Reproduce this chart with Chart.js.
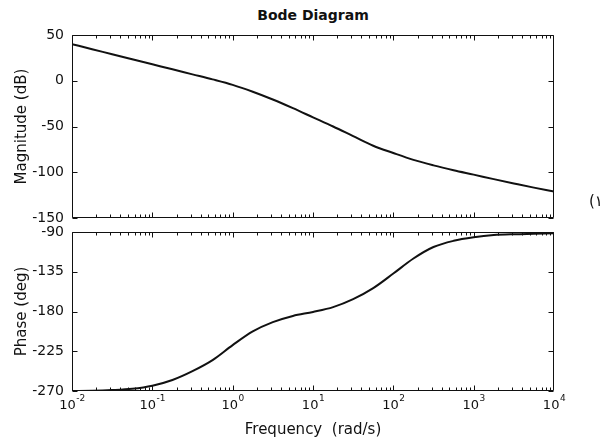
<!DOCTYPE html>
<html>
<head>
<meta charset="utf-8">
<title>Bode Diagram</title>
<script src="https://cdn.jsdelivr.net/npm/chart.js@4.4.1/dist/chart.umd.min.js"></script>
<style>
  body { margin: 0; background: #fff; width: 611px; height: 443px; position: relative; overflow: hidden; }
  canvas { position: absolute; left: 0; }
  #mag { top: 0; }
  #phase { top: 215px; }
  #title { position: absolute; left: 72px; width: 482px; top: 7px; text-align: center;
           font: bold 14px "DejaVu Sans"; line-height: 17px; color: #111; }
  #num { position: absolute; left: 589px; top: 192px; font: 15px "DejaVu Sans"; color: #111; }
</style>
</head>
<body>
<div id="title">Bode Diagram</div>
<canvas id="mag" width="611" height="230"></canvas>
<canvas id="phase" width="611" height="228"></canvas>
<div id="num" dir="rtl">۱)</div>
<script>
// values
const freq = [0.01, 0.0178, 0.0316, 0.0562, 0.1, 0.178, 0.316, 0.562, 1, 1.78, 3.16, 5.62,
  10, 17.8, 31.6, 56.2, 100, 178, 316, 562, 1000, 1780, 3160, 5620, 10000];
const magDb = [40, 34.5, 29, 23.5, 18, 12.5, 7, 1.5, -4.5, -12, -20.5, -30,
  -40, -50, -60.5, -71, -79, -86.5, -92.5, -97.8, -102.6, -107.5, -112.2, -116.8, -121];
const phaseDeg = [-270, -269.8, -269, -267.5, -264, -257.5, -247.5, -235, -218, -202.5, -192, -185,
  -180.5, -175, -166, -153.5, -137, -120, -107, -100, -96, -93.5, -92.5, -92, -91.5];

const magTicks = [50, 0, -50, -100, -150];
const phaseTicks = [-90, -135, -180, -225, -270];
const decades = [0.01, 0.1, 1, 10, 100, 1000, 10000];
const decadeExp = ['-2', '-1', '0', '1', '2', '3', '4'];

const FONT = 'DejaVu Sans';
const INK = '#111';

function points(ys) {
  return freq.map((f, i) => ({ x: f, y: ys[i] }));
}

// box round the axes with inward ticks (matlab look), plus 10^n labels
const frameTicks = {
  id: 'frameTicks',
  afterDraw(chart, args, opts) {
    const ctx = chart.ctx;
    const a = chart.chartArea;
    const xs = chart.scales.x, ys = chart.scales.y;
    const L = Math.round(a.left) + 0.5, R = Math.round(a.right) - 0.5;
    const T = Math.round(a.top) + 0.5, B = Math.round(a.bottom) - 0.5;
    ctx.save();
    ctx.strokeStyle = INK;
    ctx.lineWidth = 1;
    ctx.beginPath();
    ctx.rect(L, T, R - L, B - T);
    for (let d = 0; d < decades.length - 1; d++) {
      for (let m = 1; m < 10; m++) {
        const px = Math.round(xs.getPixelForValue(decades[d] * m)) + 0.5;
        const len = m === 1 ? 5 : 3;
        ctx.moveTo(px, T); ctx.lineTo(px, T + len);
        ctx.moveTo(px, B); ctx.lineTo(px, B - len);
      }
    }
    opts.yTicks.forEach(v => {
      const py = Math.round(ys.getPixelForValue(v)) + 0.5;
      ctx.moveTo(L, py); ctx.lineTo(L + 5, py);
      ctx.moveTo(R, py); ctx.lineTo(R - 5, py);
    });
    ctx.stroke();

    if (opts.xLabels) {
      ctx.fillStyle = INK;
      ctx.textBaseline = 'middle';
      ctx.textAlign = 'left';
      decades.forEach((v, i) => {
        const px = xs.getPixelForValue(v);
        ctx.font = '13px "' + FONT + '"';
        const wb = ctx.measureText('10').width;
        ctx.font = '9px "' + FONT + '"';
        const we = ctx.measureText(decadeExp[i]).width;
        const x0 = px - (wb + we) / 2;
        ctx.font = '13px "' + FONT + '"';
        ctx.fillText('10', x0, a.bottom + 15);
        ctx.font = '9px "' + FONT + '"';
        ctx.fillText(decadeExp[i], x0 + wb + 0.5, a.bottom + 8);
      });
    }
    ctx.restore();
  }
};

function xScale(height, withTitle) {
  return {
    type: 'logarithmic',
    min: 0.01,
    max: 10000,
    grid: { display: false, drawTicks: false },
    border: { display: false },
    ticks: { display: false },
    title: {
      display: withTitle,
      text: 'Frequency  (rad/s)',
      color: INK,
      font: { family: FONT, size: 15 },
      padding: { top: 0, bottom: 4 }
    },
    afterFit: s => { s.height = height; }
  };
}

function yScale(lo, hi, tickVals, label) {
  return {
    min: lo,
    max: hi,
    grid: { display: false, drawTicks: false },
    border: { display: false },
    afterBuildTicks: s => { s.ticks = tickVals.map(v => ({ value: v })); },
    ticks: {
      color: INK,
      padding: 8,
      font: { family: FONT, size: 14 },
      autoSkip: false
    },
    title: {
      display: true,
      text: label,
      color: INK,
      font: { family: FONT, size: 15 },
      padding: { top: 13, bottom: 0 }
    },
    afterFit: s => {
      s.width = 72;
      // keep label overhang from pushing the plot area in
      s.paddingTop = 0;
      s.paddingBottom = 0;
    }
  };
}

function lineSet(ys) {
  return {
    data: points(ys),
    borderColor: '#111',
    borderWidth: 2,
    pointRadius: 0,
    cubicInterpolationMode: 'monotone'
  };
}

const common = {
  responsive: false,
  animation: false,
  devicePixelRatio: 1,
  events: []
};

const magChart = new Chart(document.getElementById('mag').getContext('2d'), {
  type: 'line',
  data: { datasets: [lineSet(magDb)] },
  plugins: [frameTicks],
  options: Object.assign({}, common, {
    layout: { padding: { top: 35, right: 57, bottom: 12, left: 0 } },
    scales: {
      x: xScale(0, false),
      y: yScale(-150, 50, magTicks, 'Magnitude (dB)')
    },
    plugins: {
      legend: { display: false },
      tooltip: { enabled: false },
      frameTicks: { yTicks: magTicks, xLabels: false }
    }
  })
});

const phaseChart = new Chart(document.getElementById('phase').getContext('2d'), {
  type: 'line',
  data: { datasets: [lineSet(phaseDeg)] },
  plugins: [frameTicks],
  options: Object.assign({}, common, {
    layout: { padding: { top: 17, right: 57, bottom: 0, left: 0 } },
    scales: {
      x: xScale(52, true),
      y: yScale(-270, -90, phaseTicks, 'Phase (deg)')
    },
    plugins: {
      legend: { display: false },
      tooltip: { enabled: false },
      frameTicks: { yTicks: phaseTicks, xLabels: true }
    }
  })
});
</script>
</body>
</html>
